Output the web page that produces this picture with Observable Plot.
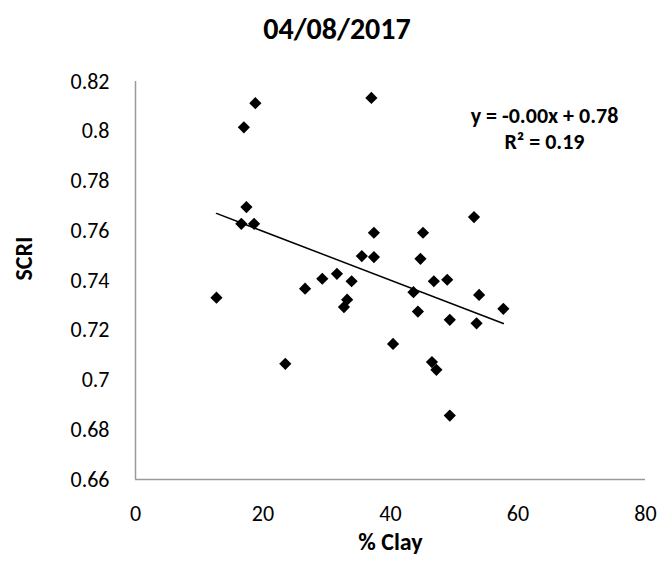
<!DOCTYPE html>
<html>
<head>
<meta charset="utf-8">
<script src="https://cdn.jsdelivr.net/npm/d3@7"></script>
<script src="https://cdn.jsdelivr.net/npm/@observablehq/plot@0.6"></script>
<style>
  html, body { margin: 0; padding: 0; background: #fff; }
  #title { width: 660px; height: 58px; line-height: 58px; text-align: center; box-sizing: border-box; padding-left: 14px;
           font-family: Carlito, Calibri, Lato, sans-serif; font-weight: bold; font-size: 30px; color: #000; }
</style>
</head>
<body>
<div id="title">04/08/2017</div>
<div id="chart"></div>
<script>
const clay = [12.7, 16.6, 17.0, 17.4, 18.6, 18.8, 23.5, 26.6, 29.3, 31.6, 32.7, 33.2, 33.9, 35.5, 37.0, 37.4,
              37.4, 40.4, 43.6, 44.3, 44.7, 45.1, 46.5, 46.8, 47.2, 48.9, 49.3, 49.3, 53.1, 53.5, 53.9, 57.7];
const scri = [0.7331, 0.7628, 0.8016, 0.7695, 0.7628, 0.8113, 0.7065, 0.7367, 0.7407, 0.7427, 0.7293, 0.7323, 0.7397, 0.7498, 0.8134, 0.7592,
              0.7494, 0.7145, 0.7353, 0.7275, 0.7487, 0.7592, 0.7072, 0.7397, 0.7041, 0.7403, 0.7242, 0.6857, 0.7655, 0.7228, 0.7342, 0.7286];
const xTicks = [0, 20, 40, 60, 80];
const xTickLabels = ["0", "20", "40", "60", "80"];
const yTicks = [0.66, 0.68, 0.70, 0.72, 0.74, 0.76, 0.78, 0.80, 0.82];
const yTickLabels = ["0.66", "0.68", "0.7", "0.72", "0.74", "0.76", "0.78", "0.8", "0.82"];
const xTitle = "% Clay";
const yTitle = "SCRI";
const equation = ["y = -0.00x + 0.78", "R² = 0.19"];

const data = clay.map((c, i) => ({clay: c, scri: scri[i]}));
const font = "Carlito, Calibri, Lato, sans-serif";
const diamond = d3.symbolDiamond2 || "diamond";

const chart = Plot.plot({
  width: 660,
  height: 509,
  marginLeft: 135,
  marginRight: 15,
  marginTop: 23,
  marginBottom: 88,
  style: {fontFamily: font, fontSize: "22px", color: "#000", background: "#fff", overflow: "visible"},
  x: {domain: [0, 80], ticks: xTicks, tickSize: 0, tickPadding: 26, label: null,
      tickFormat: d => xTickLabels[xTicks.indexOf(d)]},
  y: {domain: [0.66, 0.82], ticks: yTicks, tickSize: 0, tickPadding: 26, label: null,
      tickFormat: d => yTickLabels[yTicks.indexOf(d)]},
  marks: [
    Plot.ruleX([0], {stroke: "#9a9a9a", strokeWidth: 1.5}),
    Plot.ruleY([0.66], {stroke: "#9a9a9a", strokeWidth: 1.5}),
    Plot.linearRegressionY(data, {x: "clay", y: "scri", stroke: "#000", strokeWidth: 1.5, ci: 0}),
    Plot.dot(data, {x: "clay", y: "scri", symbol: diamond, r: 5.5, fill: "#000", stroke: "none"}),
    Plot.text([equation[0]], {frameAnchor: "top-right", dx: -101, dy: 26, textAnchor: "middle",
      fontWeight: "bold", fontSize: 22, fill: "#000"}),
    Plot.text([equation[1]], {frameAnchor: "top-right", dx: -101, dy: 52, textAnchor: "middle",
      fontWeight: "bold", fontSize: 22, fill: "#000"}),
    Plot.text([xTitle], {frameAnchor: "bottom", dy: 70, fontWeight: "bold", fontSize: 24, fill: "#000"}),
    Plot.text([yTitle], {frameAnchor: "left", dx: -111, rotate: -90, fontWeight: "bold", fontSize: 24, fill: "#000"})
  ]
});
document.getElementById("chart").appendChild(chart);
</script>
</body>
</html>
